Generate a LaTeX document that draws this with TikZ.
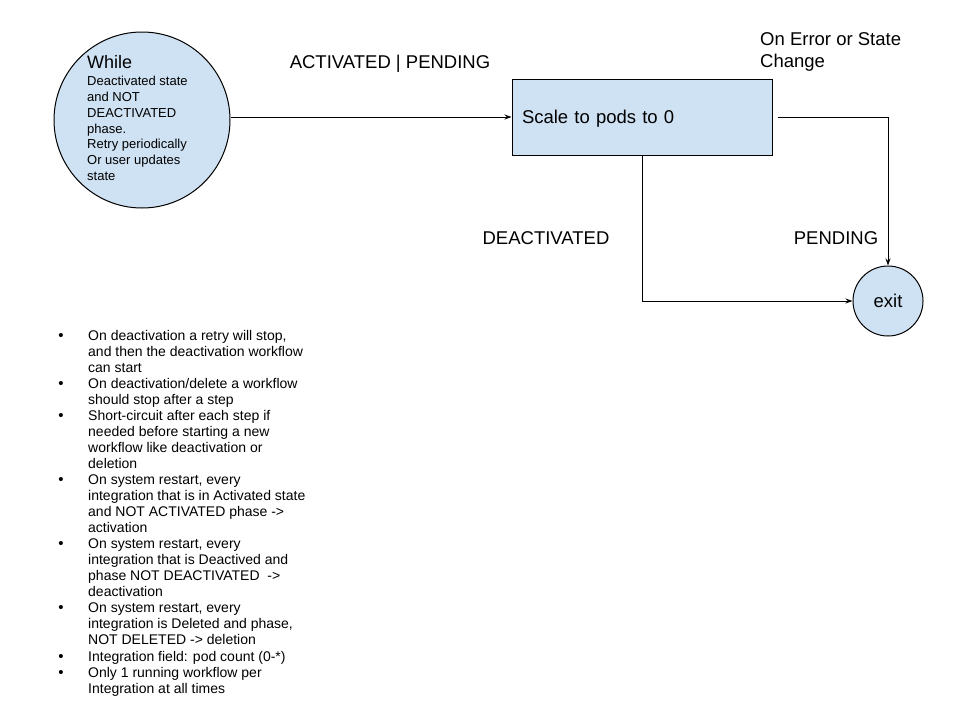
\documentclass[tikz,border=0pt]{standalone}
\usepackage{fontspec}
\setmainfont{Liberation Sans}
\usetikzlibrary{arrows.meta}
\definecolor{nodeblue}{HTML}{CFE2F3}
\begin{document}
\begin{tikzpicture}[x=1pt,y=-1pt,
  shapebox/.style={draw=black, line width=1pt, fill=nodeblue},
  arr/.style={-{Stealth[length=7pt,width=5pt]}, line width=1pt},
  lbl/.style={font=\fontsize{18.5}{22}\selectfont, inner sep=0},
  itemtext/.style={font=\fontsize{14}{16.05}\selectfont, anchor=base west, align=left, inner sep=0},
  bulletdot/.style={font=\fontsize{15}{16.05}\selectfont, anchor=base, inner sep=0},
]
\useasboundingbox (0,0) rectangle (960,720);
% states
\node[shapebox, circle, minimum size=176pt, inner sep=0] (start) at (142,120) {};
\node[anchor=base west, align=left, inner sep=0, font=\fontsize{13}{15.8}\selectfont] (wtext) at (87,180.5)
  {{\fontsize{18}{18}\selectfont While}\\[1.3pt]Deactivated state\\and NOT\\DEACTIVATED\\phase.\\Retry periodically\\Or user updates\\state};
\node[shapebox, minimum height=76pt, text width=240pt, inner xsep=10pt, inner ysep=0, align=left,
  text depth=0pt, font=\fontsize{18.5}{22}\selectfont] (box) at (642,117) {Scale to pods to 0};
\node[shapebox, circle, minimum size=70pt, inner sep=0, font=\fontsize{18.5}{22}\selectfont] (exit) at (888,301) {exit};
% connectors
\coordinate (rs) at ([xshift=5pt]box.east);
\draw[arr] (start.east |- box.west) -- (box.west);
\draw[arr] (rs) -| (exit.north);
\draw[arr] (box.south) |- (exit.west);
% labels
\node[lbl, anchor=base] (l1) at (390,68.6) {ACTIVATED | PENDING};
\node[lbl, anchor=base west, align=left] (l2) at (760,67.6) {On Error or State\\Change};
\node[lbl] (l3) at (546,238) {DEACTIVATED};
\node[lbl] (l4) at (836,238) {PENDING};
% notes
\node[bulletdot] (b1) at (61,340) {•};
\node[itemtext] (t1) at (88,372.1) {On deactivation a retry will stop,\\and then the deactivation workflow\\can start};
\node[bulletdot] (b2) at (61,388.15) {•};
\node[itemtext] (t2) at (88,404.2) {On deactivation/delete a workflow\\should stop after a step};
\node[bulletdot] (b3) at (61,420.25) {•};
\node[itemtext] (t3) at (88,468.4) {Short-circuit after each step if\\needed before starting a new\\workflow like deactivation or\\deletion};
\node[bulletdot] (b4) at (61,484.45) {•};
\node[itemtext] (t4) at (88,532.6) {On system restart, every\\integration that is in Activated state\\and NOT ACTIVATED phase ->\\activation};
\node[bulletdot] (b5) at (61,548.65) {•};
\node[itemtext] (t5) at (88,596.8) {On system restart, every\\integration that is Deactived and\\phase NOT DEACTIVATED~ ->\\deactivation};
\node[bulletdot] (b6) at (61,612.85) {•};
\node[itemtext] (t6) at (88,644.95) {On system restart, every\\integration is Deleted and phase,\\NOT DELETED -> deletion};
\node[bulletdot] (b7) at (61,661) {•};
\node[itemtext] (t7) at (88,661) {Integration field: pod count (0-*)};
\node[bulletdot] (b8) at (61,677.05) {•};
\node[itemtext] (t8) at (88,693.1) {Only 1 running workflow per\\Integration at all times};
\end{tikzpicture}
\end{document}
